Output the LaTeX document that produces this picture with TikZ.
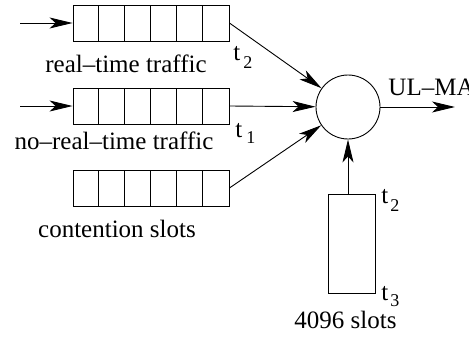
\documentclass[tikz,border=0pt]{standalone}
\usepackage{fontspec}
\setmainfont{Liberation Serif}
\usetikzlibrary{arrows.meta}
\begin{document}
\begin{tikzpicture}[x=1pt,y=-1pt,
  line width=0.9pt,
  lbl/.style={inner sep=0pt,font=\fontsize{25}{28}\selectfont},
  sub/.style={inner sep=0pt,font=\fontsize{18}{20}\selectfont},
  queue/.style={draw,rectangle,minimum width=156pt,minimum height=36pt,inner sep=0pt},
  arr/.style={-{Stealth[length=23pt,width=11pt,inset=6pt]}}]
\useasboundingbox (0,0) rectangle (469,340);
% queues
\node[queue] (q1) at (151,23) {};
\node[queue] (q2) at (151,106) {};
\node[queue] (q3) at (151,188) {};
\foreach \q in {q1,q2,q3}{
  \foreach \k in {1,...,5}{
    \draw ([xshift=\k*26pt]\q.south west) -- ([xshift=\k*26pt]\q.north west);
  }
}
% server
\node[draw,circle,minimum size=64pt,inner sep=0pt] (c) at (348,107) {};
\node[draw,rectangle,minimum width=47pt,minimum height=99pt,inner sep=0pt] (r) at (351.5,243.5) {};
% free ends
\coordinate (in1) at (20,23);
\coordinate (in2) at (20,106);
\coordinate (out) at (455,107);
% connectors
\draw[arr] (in1) -- (q1.west);
\draw[arr] (in2) -- (q2.west);
\draw[arr] (q1.east) -- (c);
\draw[arr] (q2.east) -- (c);
\draw[arr] (q3.east) -- (c);
\draw[arr] (c.east) -- (out);
\draw[arr] (c |- r.north) -- (c.south);
% labels
\node[lbl,anchor=base] (l1) at (126,72) {real–time traffic};
\node[lbl,anchor=base] (l2) at (114,149) {no–real–time traffic};
\node[lbl,anchor=base] (l3) at (117,237) {contention slots};
\node[lbl,anchor=base] (l4) at (345.5,328) {4096 slots};
\node[lbl,anchor=base west] (ul) at (388,95) {UL–MAP};
\node[lbl,anchor=base west] (t2a) at (233,60) {t};
\node[sub,anchor=base west] (t2as) at (243,68) {2};
\node[lbl,anchor=base west] (t1) at (235,137) {t};
\node[sub,anchor=base west] (t1s) at (246,143) {1};
\node[lbl,anchor=base west] (t2b) at (381,203) {t};
\node[sub,anchor=base west] (t2bs) at (390,211) {2};
\node[lbl,anchor=base west] (t3) at (381,300) {t};
\node[sub,anchor=base west] (t3s) at (390,306) {3};
\end{tikzpicture}
\end{document}
